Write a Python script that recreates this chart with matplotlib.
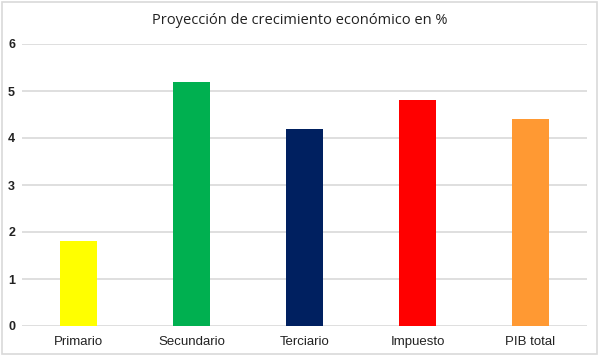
import matplotlib
matplotlib.use("Agg")
import matplotlib.pyplot as plt
from matplotlib.patches import Rectangle

categories = ["Primario", "Secundario", "Terciario", "Impuesto", "PIB total"]
values = [1.8, 5.2, 4.2, 4.8, 4.4]
colors = ["#FFFF00", "#00B050", "#002060", "#FF0000", "#FF9933"]
yticks = [0, 1, 2, 3, 4, 5, 6]
title = "Proyección de crecimiento económico en %"

fig = plt.figure(figsize=(6, 3.64), dpi=100)
fig.patch.set_facecolor("white")
fig.add_artist(Rectangle((2/600, 1 - 354/364), 595/600, 352/364, transform=fig.transFigure,
                         fill=False, edgecolor="#D9D9D9", linewidth=1.2))

ax = fig.add_axes([22/600, 38/364, 565/600, 282/364])
x = list(range(len(categories)))
ax.bar(x, values, width=0.32, color=colors, zorder=3)
ax.set_xlim(-0.5, len(categories) - 0.5)
ax.set_ylim(0, 6)
ax.set_yticks(yticks)
ax.set_yticklabels([str(t) for t in yticks], fontsize=9, fontweight="bold",
                   family="Liberation Sans", color="#222222")
ax.set_xticks(x)
ax.set_xticklabels(categories, fontsize=9.5, family="Liberation Sans", color="#222222")
ax.tick_params(axis="both", length=0)
ax.tick_params(axis="y", pad=5)
ax.tick_params(axis="x", pad=7)
ax.grid(axis="y", color="#D9D9D9", linewidth=1.2, zorder=0)
for s in ax.spines.values():
    s.set_visible(False)
fig.text(0.5, 1 - 20/364, title, ha="center", va="center", fontsize=10.5,
         family="Open Sans", color="#222222")
fig.savefig("out.png", dpi=100)
